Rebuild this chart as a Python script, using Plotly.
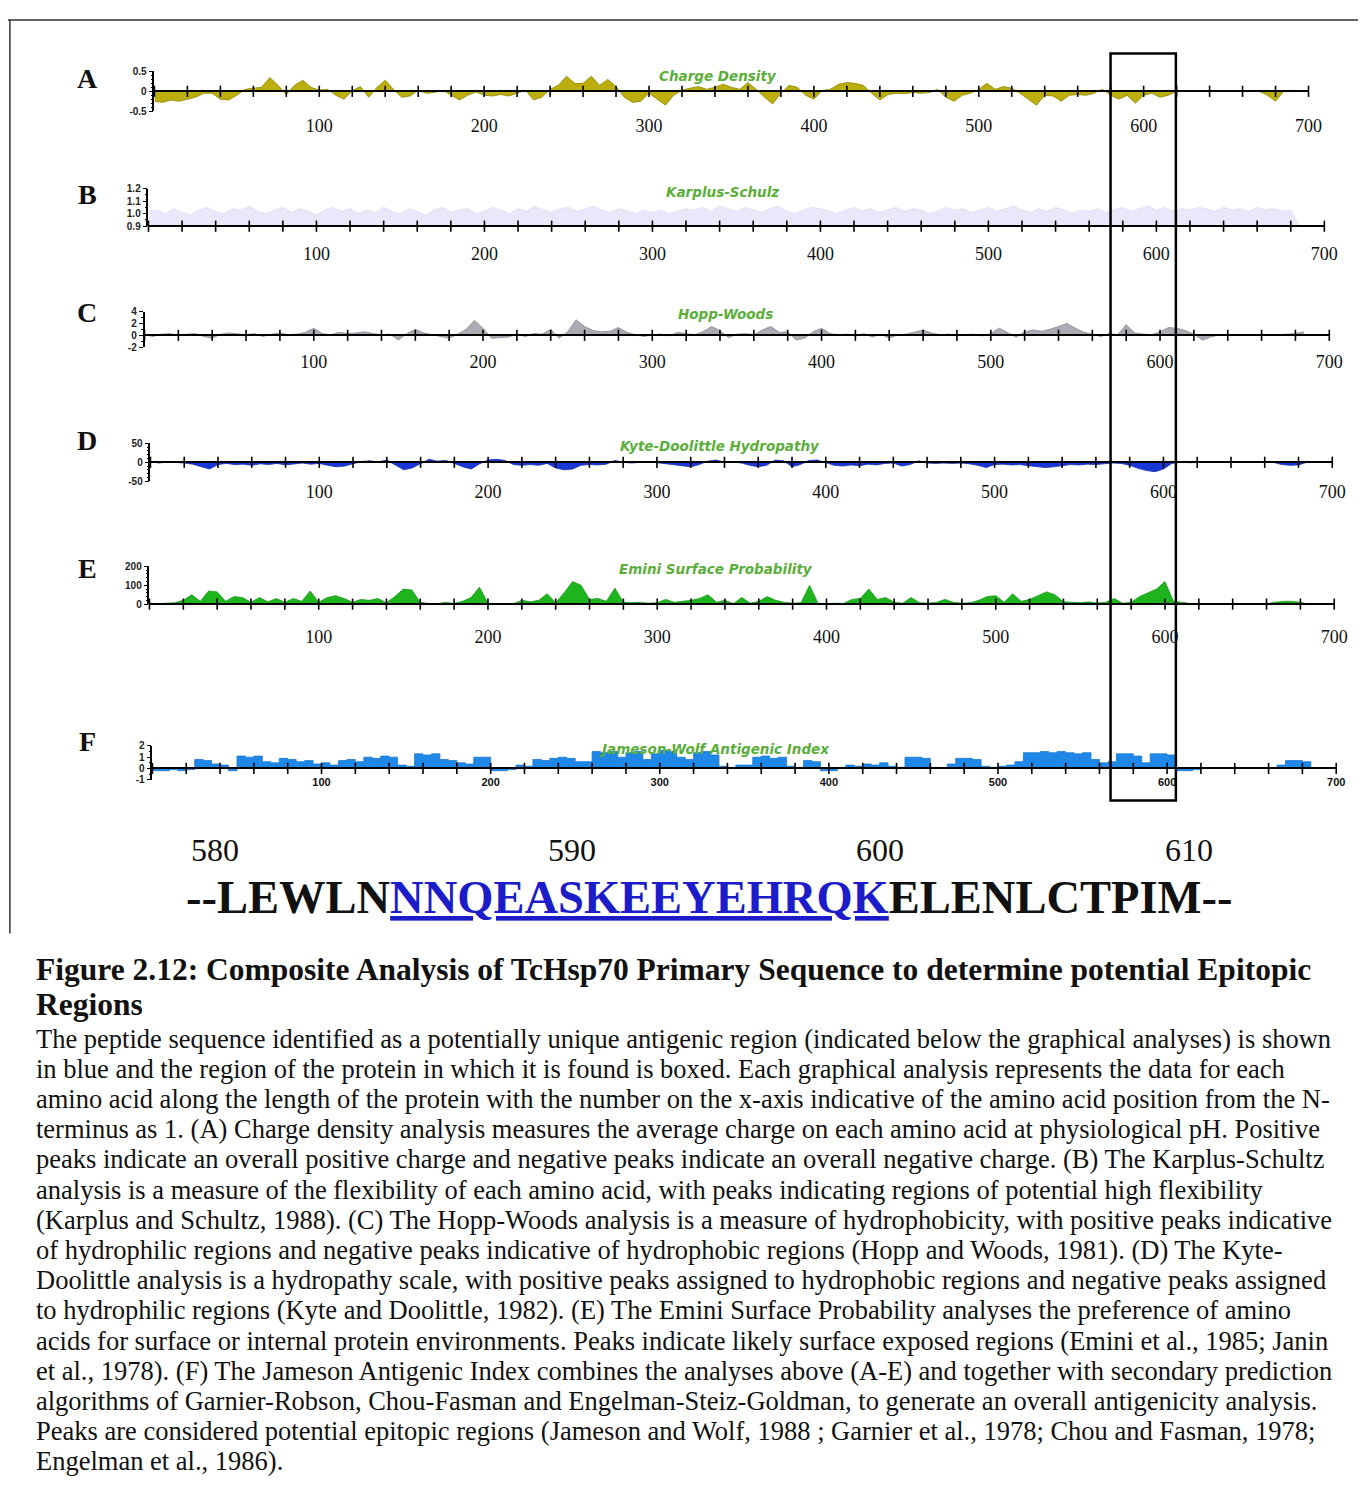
import plotly.graph_objects as go

W, H = 1372, 1488

# ---------------- data ----------------
residues = list(range(0, 690, 5))

charge_density = [
    -0.25, -0.28, -0.22, -0.25, -0.2, -0.15, -0.05, -0.05, -0.2, -0.22,
    -0.1, 0.05, 0.08, 0.1, 0.35, 0.15, -0.08, 0.15, 0.28, 0.1,
    0.03, 0.05, -0.1, -0.2, 0.02, 0.12, -0.15, 0.1, 0.28, 0.05,
    -0.15, -0.12, 0.02, -0.05, -0.03, 0.03, -0.1, -0.22, -0.1, -0.02,
    -0.1, -0.12, -0.08, -0.12, -0.05, 0.03, -0.22, -0.15, 0.05, 0.15,
    0.38, 0.2, 0.2, 0.38, 0.15, 0.3, 0.12, -0.15, -0.28, -0.25,
    -0.05, -0.2, -0.35, -0.1, 0.03, 0.08, 0.12, 0.05, 0.1, 0.18,
    0.1, 0.05, 0.22, 0.05, -0.15, -0.32, -0.05, 0.15, 0.1, -0.1,
    -0.2, 0.02, 0.05, 0.18, 0.22, 0.2, 0.15, -0.05, -0.22, -0.08,
    -0.05, -0.06, -0.03, -0.05, -0.03, 0.05, -0.15, -0.25, -0.1, -0.05,
    0.05, 0.2, 0.05, 0.12, 0.08, -0.05, -0.2, -0.35, -0.1, -0.12,
    -0.25, -0.1, -0.08, -0.1, -0.05, 0.05, -0.1, -0.2, -0.1, -0.3,
    -0.1, -0.05, -0.15, -0.1, 0, 0, 0, 0, 0, 0,
    0, 0, 0, 0, 0, -0.1, -0.25, 0,
]

karplus_schulz = [
    1.02, 1.03, 1.0, 1.04, 1.01, 0.99, 1.03, 1.05, 1.02, 1.0,
    1.04, 1.03, 1.06, 1.02, 1.0, 1.03, 1.05, 1.01, 1.04, 1.02,
    0.99, 1.03, 1.05, 1.02, 1.04, 1.0, 1.03, 1.01, 1.05, 1.02,
    1.0, 1.04, 1.02, 0.99, 1.03, 1.05, 1.01, 1.03, 1.04, 1.0,
    1.02, 1.05, 1.03, 1.0, 1.04, 1.02, 1.06, 1.03, 1.01, 1.04,
    1.05, 1.02, 1.04, 1.06, 1.03, 1.01, 1.04, 1.02, 1.0, 1.03,
    1.01, 1.03, 1.0, 1.02, 1.04, 1.03, 1.05, 1.02, 1.06, 1.04,
    1.02, 1.05, 1.03, 1.01, 1.04, 1.06, 1.02, 1.0, 1.03, 1.05,
    1.04, 1.02, 1.0, 1.03, 1.05, 1.02, 1.04, 1.01, 1.03, 1.05,
    1.02, 1.04, 1.03, 1.0, 1.02, 1.05, 1.03, 1.04, 1.01, 1.03,
    1.05, 1.02, 1.04, 1.06, 1.03, 1.01, 1.04, 1.02, 1.05, 1.03,
    1.0, 1.03, 1.02, 1.04, 1.01, 1.03, 1.05, 1.02, 1.04, 1.06,
    1.03, 1.05, 1.02, 1.04, 1.03, 1.05, 1.04, 1.02, 1.05, 1.03,
    1.04, 1.02, 1.05, 1.03, 1.04, 1.02, 1.03, 0.9,
]

hopp_woods = [
    0.1, -0.2, 0.2, 0.3, -0.1, 0.2, 0.3, -0.2, -0.5, 0.2,
    0.4, 0.2, 0.1, 0.3, -0.2, 0.2, 0.4, 0.1, 0.2, 0.5,
    1.2, 0.3, 0.1, 0.5, 0.3, 0.4, 0.6, 0.3, 0.1, 0.2,
    -0.8, 0.3, 1.0, 0.4, 0.1, -0.3, -0.5, 0.2, 1.0, 2.5,
    1.2, -0.5, -0.4, -0.3, 0.2, -0.2, 0.3, 0.2, 1.0, -0.5,
    0.6, 2.6, 1.5, 0.8, 0.6, 0.7, 1.3, 0.5, 0.1, -0.2,
    0.1, 0.2, -0.1, 0.5, 0.3, 0.1, 0.6, 1.5, 0.8, -0.4,
    0.2, 0.3, 0.1, 0.9, 1.5, 0.5, 0.6, -0.8, -0.5, 0.6,
    1.2, 0.3, 0.1, 0.2, -0.1, 0.3, -0.3, 0.2, -0.5, 0.1,
    0.2, 0.5, 0.9, 0.4, 0.1, 0.2, -0.1, 0.1, 0.2, -0.1,
    0.3, 1.2, 0.4, -0.3, 0.6, 0.9, 0.7, 1.0, 1.5, 2.0,
    1.2, 0.5, 0.2, -0.2, 0.3, 0.1, 1.8, 0.4, 0.2, 0.1,
    0.6, 1.3, 1.2, 0.8, 0.2, -0.8, -0.3, 0.1, 0.0, 0.1,
    0.0, 0.1, 0.0, 0.0, 0.1, 0.2, 0.3, 0.6,
]

kyte_doolittle = [
    2, -2, 1, 0, -2, -5, -12, -18, -6, -3,
    -6, -5, -8, -4, -6, -3, -7, -5, -2, -5,
    -3, -8, -12, -10, -3, 2, 4, 1, 6, -8,
    -20, -15, -3, 8, 3, 5, -3, -12, -18, -4,
    6, 8, 5, -6, -8, -6, -8, -3, -15, -20,
    -18, -8, -6, -7, -5, 5, 0, -2, 0, 1,
    -1, -4, -6, -8, -12, -6, 3, 6, 0, 1,
    -2, -8, -12, -8, 6, 4, -12, -6, 5, 6,
    -1, -8, -10, -7, -9, -5, -7, -3, -2, -10,
    -6, 4, -2, -3, -2, -3, -2, -4, -8, -14,
    -6, -5, -7, -6, -9, -12, -14, -12, -8, -6,
    -7, -5, -6, -4, -2, -3, -8, -16, -22, -25,
    -18, -3, 0, -1, 0, -1, 0, 0, -1, 0,
    0, -1, 0, 0, -6, -8, -7, 0,
]

emini_surface = [
    5, 3, 5, 8, 20, 50, 15, 70, 65, 15,
    40, 35, 10, 35, 12, 30, 10, 30, 15, 70,
    10, 35, 45, 30, 10, 25, 20, 30, 8, 40,
    80, 75, 10, 3, 2, 10, 3, 15, 35, 90,
    5, 2, 3, 2, 20, 12, 20, 55, 8, 60,
    120, 100, 25, 30, 15, 85, 10, 8, 10, 5,
    8, 25, 10, 15, 20, 30, 50, 10, 20, 3,
    35, 5, 15, 40, 20, 10, 5, 8, 100, 5,
    3, 5, 3, 25, 30, 80, 25, 35, 10, 5,
    35, 8, 5, 10, 25, 10, 5, 8, 20, 40,
    45, 10, 55, 15, 25, 45, 65, 50, 12, 10,
    8, 12, 6, 10, 30, 5, 10, 40, 60, 80,
    120, 15, 10, 3, 2, 2, 2, 2, 2, 2,
    2, 2, 2, 10, 15, 15, 10, 0,
]

jameson_wolf = [
    -0.2, -0.2, -0.1, -0.2, -0.1, 0.8, 0.7, 0.4, 0.3, -0.2,
    1.1, 1.0, 1.1, 0.6, 0.5, 0.9, 0.8, 0.6, 0.7, 0.4,
    0.5, 0.3, 0.7, 0.8, 0.6, 1.0, 0.9, 1.1, 1.0, 0.3,
    0.2, 1.3, 1.2, 1.3, 0.8, 0.7, 0.5, 0.4, 1.0, 1.0,
    -0.2, -0.2, -0.1, 0.3, 0.2, 0.8, 0.7, 0.9, 1.0, 0.9,
    0.6, 0.6, 1.5, 1.4, 1.5, 1.0, 1.4, 1.5, 0.8, 1.3,
    1.6, 1.5, 1.0, 0.8, 1.4, 1.5, 1.2, 0.2, 0.1, 0.3,
    0.3, 1.0, 1.1, 0.9, 1.0, 0.2, 0.1, 0.7, 0.6, -0.2,
    -0.2, 0.1, 0.3, 0.2, 0.4, 0.3, 0.5, 0.2, 0.1, 1.0,
    1.0, 0.9, 0.1, 0.0, 0.4, 0.9, 0.9, 0.8, 0.2, 0.1,
    0.2, 0.3, 0.6, 1.4, 1.4, 1.5, 1.4, 1.5, 1.4, 1.3,
    1.4, 0.8, 0.5, 0.6, 1.3, 1.3, 1.1, 0.5, 1.3, 1.3,
    1.2, -0.2, -0.2, -0.1, 0, 0, 0, 0, 0, 0,
    0, 0, 0, 0.3, 0.7, 0.7, 0.6, 0,
]

series = [charge_density, karplus_schulz, hopp_woods, kyte_doolittle, emini_surface, jameson_wolf]

tick_marks = list(range(0, 701, 20))
x_label_vals = [100, 200, 300, 400, 500, 600, 700]
x_label_text = ["100", "200", "300", "400", "500", "600", "700"]

panel_letters = ["A", "B", "C", "D", "E", "F"]
panel_titles = ["Charge Density", "Karplus-Schulz", "Hopp-Woods",
                "Kyte-Doolittle Hydropathy", "Emini Surface Probability",
                "Jameson-Wolf Antigenic Index"]
y_ranges = [[-0.5, 0.5], [0.9, 1.2], [-2, 4], [-50, 50], [0, 200], [-1, 2]]
y_tickvals = [[-0.5, 0, 0.5], [0.9, 1.0, 1.1, 1.2], [-2, 0, 2, 4],
              [-50, 0, 50], [0, 100, 200], [-1, 0, 1, 2]]
y_ticktext = [["-0.5", "0", "0.5"], ["0.9", "1.0", "1.1", "1.2"],
              ["-2", "0", "2", "4"], ["-50", "0", "50"],
              ["0", "100", "200"], ["-1", "0", "1", "2"]]
baselines = [0, 0.9, 0, 0, 0, 0]

seq_numbers = ["580", "590", "600", "610"]
seq_left = "--LEWLN"
seq_epitope = "NNQEASKEEYEHRQK"
seq_right = "ELENLCTPIM--"

caption_title = ["Figure 2.12: Composite Analysis of TcHsp70 Primary Sequence to determine potential Epitopic",
                 "Regions"]
caption_lines = [
    "The peptide sequence identified as a potentially unique antigenic region (indicated below the graphical analyses) is shown",
    "in blue and the region of the protein in which it is found is boxed. Each graphical analysis represents the data for each",
    "amino acid along the length of the protein with the number on the x-axis indicative of the amino acid position from the N-",
    "terminus as 1. (A) Charge density analysis measures the average charge on each amino acid at physiological pH. Positive",
    "peaks indicate an overall positive charge and negative peaks indicate an overall negative charge. (B) The Karplus-Schultz",
    "analysis is a measure of the flexibility of each amino acid, with peaks indicating regions of potential high flexibility",
    "(Karplus and Schultz, 1988). (C) The Hopp-Woods analysis is a measure of hydrophobicity, with positive peaks indicative",
    "of hydrophilic regions and negative peaks indicative of hydrophobic regions (Hopp and Woods, 1981). (D) The Kyte-",
    "Doolittle analysis is a hydropathy scale, with positive peaks assigned to hydrophobic regions and negative peaks assigned",
    "to hydrophilic regions (Kyte and Doolittle, 1982). (E) The Emini Surface Probability analyses the preference of amino",
    "acids for surface or internal protein environments. Peaks indicate likely surface exposed regions (Emini et al., 1985; Janin",
    "et al., 1978). (F) The Jameson Antigenic Index combines the analyses above (A-E) and together with secondary prediction",
    "algorithms of Garnier-Robson, Chou-Fasman and Engelman-Steiz-Goldman, to generate an overall antigenicity analysis.",
    "Peaks are considered potential epitopic regions (Jameson and Wolf, 1988 ; Garnier et al., 1978; Chou and Fasman, 1978;",
    "Engelman et al., 1986).",
]

# ---------------- styles / layout (pixels) ----------------
x_left = [156, 150, 146, 152, 151, 154]
x_right = [1322, 1338, 1343, 1346, 1348, 1350]
y_top = [66, 184, 308, 441, 565, 746]
y_bot = [106, 222, 344, 479, 603, 780]
fill_colors = ["rgba(184,170,0,0.95)", "rgba(190,190,240,0.35)", "rgba(150,150,160,0.8)",
               "rgba(25,55,215,1)", "rgba(30,180,30,1)", "rgba(30,135,232,1)"]
line_colors = ["#8f8600", "rgba(200,200,240,0.5)", "#8a8a95", "#1530b0", "#1b9a1b", "#1b78d0"]
shapes_line = ["linear", "linear", "linear", "linear", "linear", "hv"]
letter_y = [73, 190, 309, 438, 567, 741]
title_pos = [(725, 71), (730, 188), (733, 310), (727, 444), (723, 568), (722, 749)]
label_standoff = [18, 11, 10, 13, 16, 3]
minor_dt = [0.1, 0.05, 1, 10, 20, 0.5]


def px(x):
    return x / W


def py(y):
    return 1 - y / H


fig = go.Figure()
layout = dict(
    width=W, height=H, margin=dict(l=0, r=0, t=0, b=0),
    paper_bgcolor="white", plot_bgcolor="rgba(0,0,0,0)", showlegend=False,
)
annotations = []
shapes = []

serif = "Liberation Serif, Times New Roman, serif"
sans = "Liberation Sans, Arial, sans-serif"

for i in range(6):
    n = i + 1
    xa = "x" if n == 1 else f"x{n}"
    ya = "y" if n == 1 else f"y{n}"
    xkey = "xaxis" if n == 1 else f"xaxis{n}"
    ykey = "yaxis" if n == 1 else f"yaxis{n}"
    r0, r1 = y_ranges[i]
    d0, d1 = py(y_bot[i]), py(y_top[i])
    base = baselines[i]
    zero_pos = d0 + (base - r0) / (r1 - r0) * (d1 - d0)

    fig.add_trace(go.Scatter(
        x=residues, y=series[i], xaxis=xa, yaxis=ya, mode="lines",
        line=dict(color=line_colors[i], width=0.8, shape=shapes_line[i]),
        fill="tozeroy", fillcolor=fill_colors[i], hoverinfo="skip",
    ))
    fig.add_trace(go.Scatter(
        x=tick_marks, y=[base] * len(tick_marks), xaxis=xa, yaxis=ya,
        mode="markers", cliponaxis=False, hoverinfo="skip",
        marker=dict(symbol="line-ns", size=8, line=dict(color="black", width=1.6)),
    ))

    is_f = (i == 5)
    layout[xkey] = dict(
        domain=[px(x_left[i]), px(x_right[i])], range=[0, 700],
        anchor="free", position=zero_pos, showline=True, linecolor="black",
        linewidth=2, ticks="", tickmode="array", tickvals=x_label_vals,
        ticktext=x_label_text, ticklabelstandoff=label_standoff[i],
        tickfont=dict(family=sans if is_f else serif, size=11 if is_f else 18,
                      color="#111", weight="bold" if is_f else "normal"),
        showgrid=False, zeroline=False, fixedrange=True,
    )
    layout[ykey] = dict(
        domain=[d0, d1], range=[r0, r1], anchor=xa, showline=True,
        linecolor="black", linewidth=1.5, ticks="outside", ticklen=4,
        tickwidth=1.2, tickcolor="black", tickmode="array",
        tickvals=y_tickvals[i], ticktext=y_ticktext[i],
        tickfont=dict(family=sans, size=10, color="#222", weight="bold"),
        minor=dict(ticks="outside", ticklen=2, dtick=minor_dt[i], tickcolor="black"),
        showgrid=False, zeroline=False, fixedrange=True,
    )

    annotations.append(dict(
        x=px(88), y=py(letter_y[i]), xref="paper", yref="paper",
        text=f"<b>{panel_letters[i]}</b>", showarrow=False,
        font=dict(family=serif, size=28, color="#111"),
        xanchor="center", yanchor="middle",
    ))
    tx, ty = title_pos[i]
    annotations.append(dict(
        x=px(tx), y=py(ty), xref="paper", yref="paper",
        text=f"<b><i>{panel_titles[i]}</i></b>", showarrow=False,
        font=dict(family="DejaVu Sans, Verdana, sans-serif", size=13.5, color="#5aae3a"),
        xanchor="center", yanchor="middle",
    ))

seq_num_x = [217, 578, 889, 1201]
for s, x in zip(seq_numbers, seq_num_x):
    annotations.append(dict(
        x=px(x), y=py(851), xref="paper", yref="paper", text=s, showarrow=False,
        font=dict(family=serif, size=32, color="#111"), xanchor="center", yanchor="middle",
    ))

annotations.append(dict(
    x=px(716), y=py(899), xref="paper", yref="paper", showarrow=False,
    text=(f"<b>{seq_left}<span style='color:#1c1cc8'><u>{seq_epitope}</u></span>{seq_right}</b>"),
    font=dict(family=serif, size=46.5, color="#111"), xanchor="center", yanchor="middle",
))

for j, line in enumerate(caption_title):
    annotations.append(dict(
        x=px(34), y=py(971 + 36 * j), xref="paper", yref="paper", showarrow=False,
        text=f"<b>{line}</b>", font=dict(family=serif, size=31.5, color="#111"),
        xanchor="left", yanchor="middle",
    ))
for j, line in enumerate(caption_lines):
    annotations.append(dict(
        x=px(34), y=py(1041 + 30.45 * j), xref="paper", yref="paper", showarrow=False,
        text=line, font=dict(family=serif, size=26.5, color="#111"),
        xanchor="left", yanchor="middle",
    ))

shapes.append(dict(type="rect", xref="paper", yref="paper",
                   x0=px(1122), x1=px(1188), y0=py(801), y1=py(48),
                   line=dict(color="black", width=2.5)))
shapes.append(dict(type="line", xref="paper", yref="paper",
                   x0=px(8), x1=px(1372), y0=py(14), y1=py(14),
                   line=dict(color="#333", width=1.5)))
shapes.append(dict(type="line", xref="paper", yref="paper",
                   x0=px(10), x1=px(10), y0=py(14), y1=py(935),
                   line=dict(color="#333", width=1.5)))

layout["annotations"] = annotations
layout["shapes"] = shapes
fig.update_layout(**layout)
fig.write_html("out.html")
